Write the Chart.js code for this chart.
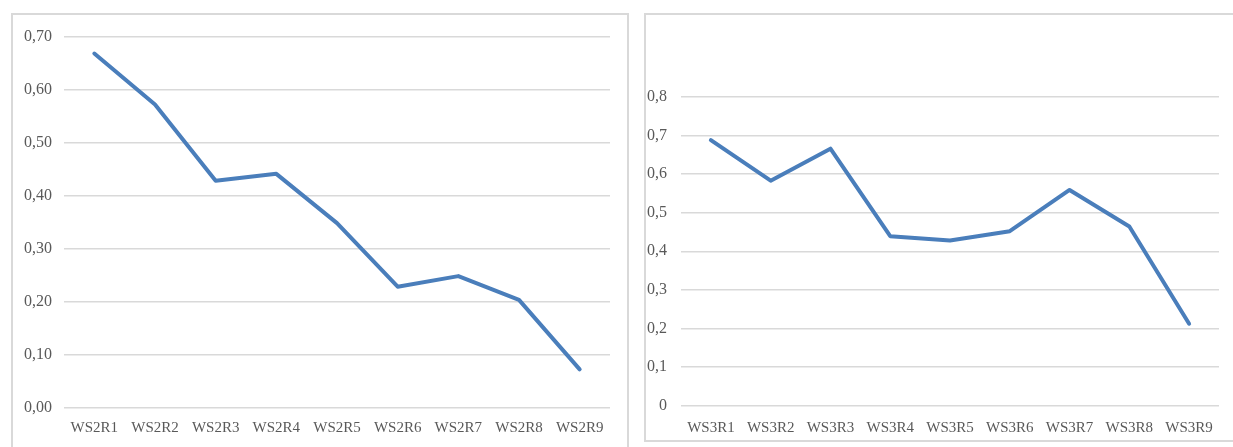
<!DOCTYPE html>
<html>
<head>
<meta charset="utf-8">
<script src="https://cdn.jsdelivr.net/npm/chart.js@4/dist/chart.umd.min.js"></script>
<style>
  body { margin: 0; background: #fff; width: 1233px; height: 447px; overflow: hidden; position: relative; }
  .panel { position: absolute; border: 2px solid #d9d9d9; background: #fff; }
  #leftPanel { left: 11px; top: 13px; width: 614px; height: 440px; }
  #rightPanel { left: 644px; top: 13px; width: 600px; height: 425px; }
  canvas { display: block; }
</style>
</head>
<body>
<div class="panel" id="leftPanel"><canvas id="chartWs2" width="614" height="432"></canvas></div>
<div class="panel" id="rightPanel"><canvas id="chartWs3" width="587" height="425"></canvas></div>
<script>
// WS2 rounds
const ws2Labels = ["WS2R1", "WS2R2", "WS2R3", "WS2R4", "WS2R5", "WS2R6", "WS2R7", "WS2R8", "WS2R9"];
const ws2Values = [0.668, 0.572, 0.428, 0.441, 0.348, 0.228, 0.248, 0.203, 0.072];

// WS3 rounds
const ws3Labels = ["WS3R1", "WS3R2", "WS3R3", "WS3R4", "WS3R5", "WS3R6", "WS3R7", "WS3R8", "WS3R9"];
const ws3Values = [0.688, 0.583, 0.666, 0.439, 0.428, 0.452, 0.559, 0.464, 0.212];

const lineColor = '#4a7ebb';
const gridColor = '#d9d9d9';
const textColor = '#595959';
const xFont = { family: "'Liberation Serif', 'DejaVu Serif', serif", size: 15 };
const yFont = { family: "'Liberation Serif', 'DejaVu Serif', serif", size: 16 };

function makeChart(id, labels, values, yMax, decimals, box) {
  const ctx = document.getElementById(id).getContext('2d');
  return new Chart(ctx, {
    type: 'line',
    data: {
      labels,
      datasets: [{
        data: values,
        borderColor: lineColor,
        backgroundColor: 'transparent',
        borderWidth: 4,
        pointRadius: 0,
        tension: 0,
        borderJoinStyle: 'round',
        borderCapStyle: 'round',
        fill: false
      }]
    },
    options: {
      responsive: false,
      animation: false,
      layout: { padding: { left: 0, top: box.top, right: box.right, bottom: 0 } },
      plugins: { legend: { display: false }, tooltip: { enabled: false } },
      scales: {
        x: {
          offset: true,
          grid: { display: false, drawTicks: false },
          border: { display: false },
          ticks: { color: textColor, font: xFont, padding: box.xPad, maxRotation: 0, autoSkip: false },
          afterFit: s => { s.height = box.xHeight; }
        },
        y: {
          min: 0,
          max: yMax,
          grid: { color: gridColor, lineWidth: 1.5, drawTicks: false },
          border: { display: false },
          ticks: {
            stepSize: 0.1,
            color: textColor,
            font: yFont,
            padding: box.yPad,
            callback: v => {
              if (decimals === 1 && Math.abs(v) < 1e-9) return '0';
              return v.toFixed(decimals).replace('.', ',');
            }
          },
          afterFit: s => { s.width = box.yWidth; }
        }
      }
    }
  });
}

makeChart('chartWs2', ws2Labels, ws2Values, 0.7, 2,
  { top: 20, right: 17, xHeight: 39.5, xPad: 12, yWidth: 51, yPad: 12 });
makeChart('chartWs3', ws3Labels, ws3Values, 0.8, 1,
  { top: 82, right: 14, xHeight: 34.5, xPad: 14, yWidth: 35, yPad: 14 });
</script>
</body>
</html>
